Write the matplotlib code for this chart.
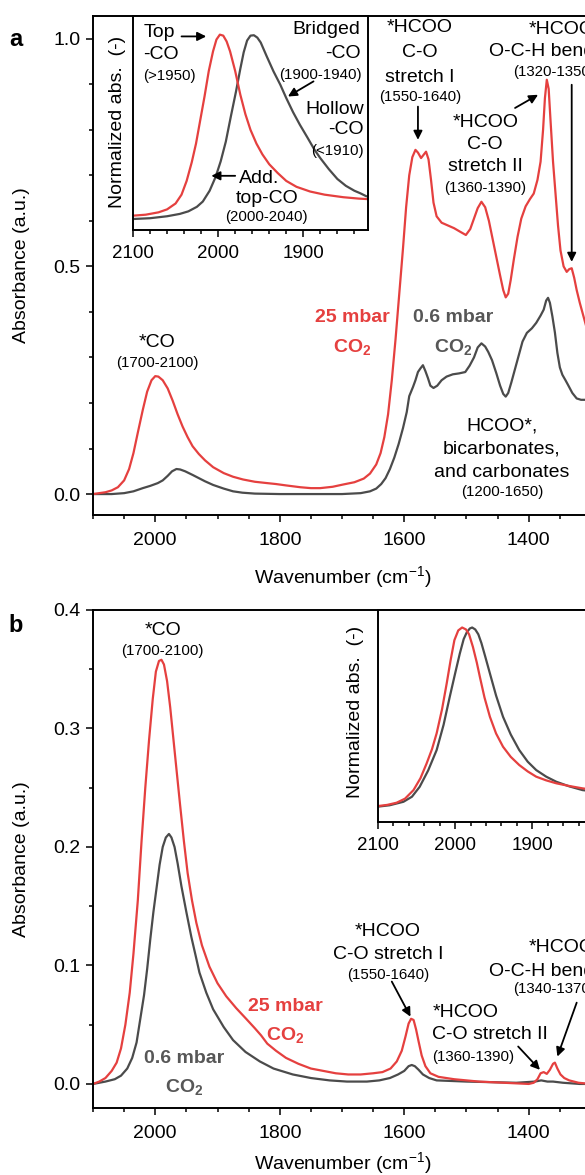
import matplotlib
matplotlib.use("Agg")
import matplotlib.pyplot as plt
from matplotlib.ticker import MultipleLocator

plt.rcParams['font.family'] = ['Liberation Sans', 'DejaVu Sans']
plt.rcParams['mathtext.fontset'] = 'custom'
plt.rcParams['mathtext.rm'] = 'Liberation Sans'
plt.rcParams['mathtext.bf'] = 'Liberation Sans:bold'
plt.rcParams['mathtext.it'] = 'Liberation Sans:italic'

RED = '#e5403f'
GRAY = '#4b4b4b'
GRAY_TXT = '#575757'

# ---- panel a: main spectra ----
a_red_x = [2100, 2090, 2080, 2070, 2060, 2050, 2042, 2035, 2028, 2020, 2013, 2006, 2000, 1995,
           1988, 1980, 1972, 1964, 1956, 1948, 1940, 1930, 1920, 1907, 1890, 1875, 1859, 1840,
           1820, 1806, 1790, 1767, 1750, 1735, 1715, 1698, 1680, 1665, 1655, 1645, 1638, 1632,
           1626, 1620, 1614, 1608, 1602, 1597, 1592, 1587, 1582, 1578, 1573, 1569, 1565, 1561,
           1557, 1553, 1548, 1540, 1530, 1520, 1510, 1501, 1494, 1488, 1482, 1476, 1470, 1464,
           1458, 1452, 1446, 1441, 1437, 1433, 1429, 1424, 1418, 1412, 1405, 1398, 1392, 1386,
           1381, 1377, 1374, 1371, 1368, 1365, 1361, 1357, 1353, 1349, 1344, 1339, 1335, 1331,
           1327, 1323, 1318, 1313, 1308, 1300]
a_red_y = [0.000, 0.002, 0.004, 0.008, 0.015, 0.030, 0.055, 0.090, 0.135, 0.185, 0.225, 0.250, 0.259, 0.258,
           0.250, 0.232, 0.205, 0.175, 0.148, 0.125, 0.105, 0.088, 0.074, 0.059, 0.046, 0.038, 0.032, 0.027,
           0.024, 0.022, 0.019, 0.015, 0.013, 0.013, 0.016, 0.021, 0.026, 0.034, 0.045, 0.065, 0.090, 0.125,
           0.175, 0.250, 0.340, 0.440, 0.540, 0.630, 0.700, 0.740, 0.756, 0.750, 0.738, 0.745, 0.752, 0.735,
           0.690, 0.640, 0.610, 0.596, 0.590, 0.584, 0.576, 0.569, 0.582, 0.605, 0.628, 0.642, 0.630, 0.600,
           0.560, 0.520, 0.480, 0.448, 0.432, 0.440, 0.470, 0.515, 0.565, 0.605, 0.632, 0.648, 0.660, 0.690,
           0.730, 0.800, 0.870, 0.910, 0.890, 0.820, 0.730, 0.660, 0.590, 0.535, 0.500, 0.488, 0.494, 0.496,
           0.475, 0.448, 0.420, 0.395, 0.370, 0.330]

a_gray_x = [2100, 2070, 2050, 2035, 2020, 2008, 1996, 1988, 1980, 1973, 1966, 1960, 1952, 1940,
            1930, 1920, 1907, 1890, 1875, 1860, 1840, 1800, 1700, 1670, 1655, 1645, 1637, 1630,
            1623, 1616, 1609, 1602, 1596, 1592, 1586, 1582, 1578, 1574, 1570, 1566, 1562, 1558,
            1553, 1547, 1540, 1532, 1522, 1512, 1502, 1495, 1488, 1482, 1476, 1470, 1465, 1459,
            1452, 1446, 1441, 1437, 1433, 1428, 1422, 1416, 1410, 1403, 1395, 1388, 1381, 1376,
            1372, 1369, 1366, 1362, 1358, 1354, 1350, 1346, 1341, 1337, 1330, 1323, 1316, 1308,
            1300]
a_gray_y = [0.000, 0.000, 0.002, 0.006, 0.013, 0.018, 0.024, 0.030, 0.040, 0.050, 0.055, 0.054, 0.050, 0.042,
            0.035, 0.028, 0.020, 0.012, 0.006, 0.003, 0.001, 0.000, 0.000, 0.002, 0.006, 0.012, 0.022, 0.035,
            0.055, 0.080, 0.110, 0.145, 0.180, 0.215, 0.235, 0.250, 0.268, 0.276, 0.283, 0.270, 0.255, 0.238,
            0.233, 0.238, 0.250, 0.258, 0.263, 0.265, 0.268, 0.282, 0.300, 0.322, 0.331, 0.324, 0.312, 0.294,
            0.265, 0.238, 0.220, 0.214, 0.222, 0.245, 0.275, 0.305, 0.335, 0.354, 0.364, 0.376, 0.392, 0.405,
            0.425, 0.431, 0.420, 0.390, 0.355, 0.310, 0.278, 0.262, 0.250, 0.240, 0.222, 0.210, 0.207, 0.207,
            0.207]

# ---- panel a: inset, normalized CO band ----
ai_red_x = [2100, 2085, 2070, 2060, 2050, 2043, 2037, 2031, 2026, 2021, 2016, 2011, 2006, 2002,
            1998, 1994, 1990, 1986, 1980, 1974, 1968, 1962, 1955, 1948, 1940, 1930, 1920, 1908,
            1892, 1875, 1853, 1835, 1815]
ai_red_y = [0.073, 0.078, 0.090, 0.105, 0.135, 0.180, 0.250, 0.345, 0.440, 0.560, 0.680, 0.810, 0.910, 0.970,
            0.995, 0.990, 0.960, 0.910, 0.810, 0.690, 0.590, 0.510, 0.440, 0.385, 0.335, 0.290, 0.250, 0.220,
            0.196, 0.180, 0.167, 0.160, 0.155]
ai_gray_x = [2100, 2080, 2060, 2045, 2035, 2025, 2018, 2010, 2003, 1997, 1991, 1985, 1979, 1974,
             1970, 1966, 1962, 1958, 1954, 1950, 1943, 1935, 1927, 1920, 1912, 1904, 1895, 1887,
             1880, 1870, 1860, 1850, 1840, 1833, 1826, 1815]
ai_gray_y = [0.056, 0.060, 0.070, 0.082, 0.095, 0.118, 0.145, 0.200, 0.270, 0.350, 0.450, 0.580, 0.706, 0.820,
             0.905, 0.965, 0.990, 0.992, 0.980, 0.955, 0.885, 0.808, 0.740, 0.672, 0.600, 0.536, 0.470, 0.410,
             0.366, 0.310, 0.260, 0.225, 0.200, 0.187, 0.172, 0.165]

# ---- panel b: main spectra ----
b_red_x = [2100, 2090, 2080, 2070, 2062, 2055, 2048, 2041, 2035, 2028, 2022, 2016, 2010, 2004,
           1999, 1994, 1990, 1986, 1981, 1976, 1971, 1966, 1960, 1954, 1948, 1941, 1934, 1925,
           1913, 1900, 1886, 1870, 1854, 1840, 1830, 1820, 1806, 1790, 1770, 1750, 1730, 1710,
           1690, 1670, 1650, 1635, 1622, 1612, 1604, 1598, 1593, 1589, 1585, 1581, 1577, 1572,
           1566, 1558, 1545, 1520, 1480, 1440, 1400, 1392, 1386, 1381, 1376, 1371, 1366, 1361,
           1358, 1354, 1349, 1343, 1335, 1320, 1300]
b_red_y = [0.000, 0.002, 0.005, 0.011, 0.018, 0.030, 0.050, 0.077, 0.110, 0.155, 0.205, 0.250, 0.290, 0.325,
           0.348, 0.357, 0.358, 0.354, 0.340, 0.318, 0.292, 0.266, 0.235, 0.205, 0.178, 0.155, 0.136, 0.117,
           0.099, 0.085, 0.074, 0.064, 0.055, 0.047, 0.041, 0.034, 0.028, 0.022, 0.017, 0.013, 0.011, 0.009,
           0.008, 0.008, 0.009, 0.010, 0.013, 0.019, 0.028, 0.040, 0.051, 0.055, 0.054, 0.046, 0.036, 0.024,
           0.015, 0.009, 0.006, 0.004, 0.002, 0.001, 0.000, 0.001, 0.004, 0.009, 0.010, 0.0085, 0.012, 0.017,
           0.018, 0.013, 0.008, 0.005, 0.003, 0.001, 0.000]
b_gray_x = [2100, 2080, 2065, 2055, 2045, 2037, 2030, 2024, 2018, 2013, 2008, 2003, 1998, 1993,
            1988, 1983, 1978, 1974, 1969, 1964, 1958, 1950, 1942, 1935, 1929, 1918, 1907, 1890,
            1875, 1855, 1832, 1810, 1779, 1750, 1720, 1692, 1660, 1640, 1623, 1610, 1600, 1593,
            1588, 1583, 1577, 1570, 1560, 1548, 1500, 1420, 1390, 1380, 1370, 1361, 1345, 1318,
            1300]
b_gray_y = [0.000, 0.002, 0.004, 0.007, 0.013, 0.022, 0.035, 0.055, 0.075, 0.097, 0.122, 0.145, 0.165, 0.185,
            0.200, 0.208, 0.211, 0.208, 0.200, 0.186, 0.167, 0.145, 0.124, 0.108, 0.094, 0.077, 0.063, 0.048,
            0.037, 0.027, 0.019, 0.013, 0.008, 0.005, 0.003, 0.002, 0.002, 0.003, 0.005, 0.008, 0.011, 0.015,
            0.016, 0.015, 0.012, 0.008, 0.005, 0.003, 0.002, 0.001, 0.002, 0.003, 0.002, 0.002, 0.001, 0.000,
            0.000]

# ---- panel b: inset ----
bi_red_x = [2100, 2088, 2076, 2065, 2054, 2045, 2037, 2030, 2024, 2017, 2011, 2006, 2001, 1996,
            1991, 1986, 1982, 1977, 1972, 1968, 1962, 1955, 1947, 1938, 1928, 1917, 1906, 1895,
            1882, 1869, 1852, 1835, 1820]
bi_red_y = [0.082, 0.088, 0.099, 0.120, 0.164, 0.225, 0.301, 0.375, 0.456, 0.580, 0.712, 0.830, 0.935, 0.985,
            1.000, 0.990, 0.965, 0.900, 0.820, 0.746, 0.640, 0.541, 0.455, 0.387, 0.335, 0.293, 0.260, 0.233,
            0.214, 0.199, 0.185, 0.173, 0.165]
bi_gray_x = [2100, 2085, 2067, 2056, 2046, 2035, 2024, 2015, 2007, 2000, 1994, 1989, 1985, 1981,
             1978, 1974, 1970, 1966, 1961, 1955, 1947, 1938, 1928, 1917, 1906, 1895, 1882, 1869,
             1852, 1835, 1820]
bi_gray_y = [0.079, 0.086, 0.104, 0.130, 0.181, 0.265, 0.370, 0.500, 0.644, 0.765, 0.866, 0.940, 0.975, 0.995,
             1.000, 0.990, 0.965, 0.920, 0.850, 0.764, 0.650, 0.541, 0.450, 0.370, 0.310, 0.267, 0.233, 0.207,
             0.183, 0.164, 0.157]

main_xticks = [2000, 1800, 1600, 1400]
inset_xticks = [2100, 2000, 1900]

W, H = 585, 1175
fig = plt.figure(figsize=(W / 100, H / 100), dpi=100)

ax1 = fig.add_axes([93 / W, 1 - 515 / H, 498 / W, 499 / H])
ax2 = fig.add_axes([93 / W, 1 - 1108 / H, 498 / W, 498 / H])
in1 = fig.add_axes([133 / W, 1 - 230 / H, 235 / W, 214 / H])
in2 = fig.add_axes([378 / W, 1 - 822 / H, 213 / W, 212 / H])

LW = 1.6
ax1.plot(a_gray_x, a_gray_y, color=GRAY, lw=LW)
ax1.plot(a_red_x, a_red_y, color=RED, lw=LW)
ax2.plot(b_gray_x, b_gray_y, color=GRAY, lw=LW)
ax2.plot(b_red_x, b_red_y, color=RED, lw=LW)
in1.plot(ai_gray_x, ai_gray_y, color=GRAY, lw=LW)
in1.plot(ai_red_x, ai_red_y, color=RED, lw=LW)
in2.plot(bi_gray_x, bi_gray_y, color=GRAY, lw=LW)
in2.plot(bi_red_x, bi_red_y, color=RED, lw=LW)

for ax in (ax1, ax2):
    ax.set_xlim(2100, 1300)
    ax.set_xticks(main_xticks)
    ax.xaxis.set_minor_locator(MultipleLocator(50))
    ax.tick_params(which='both', direction='out', width=1.1, labelsize=14,
                   top=False, right=False)
    ax.tick_params(which='major', length=5)
    ax.tick_params(which='minor', length=3)
    ax.tick_params(axis='x', pad=7)
    ax.tick_params(axis='y', pad=4)
    for s in ax.spines.values():
        s.set_linewidth(1.4)

ax1.set_ylim(-0.046, 1.05)
ax1.set_yticks([0.0, 0.5, 1.0])
ax1.yaxis.set_minor_locator(MultipleLocator(0.1))
ax2.set_ylim(-0.0203, 0.4)
ax2.set_yticks([0.0, 0.1, 0.2, 0.3, 0.4])
ax2.yaxis.set_minor_locator(MultipleLocator(0.05))

for ax in (in1, in2):
    ax.set_xlim(2100, 1824)
    ax.set_ylim(0, 1.09)
    ax.set_xticks(inset_xticks)
    ax.xaxis.set_minor_locator(MultipleLocator(20))
    ax.tick_params(axis='y', left=False, labelleft=False, which='both')
    ax.tick_params(axis='x', which='both', direction='out', width=1.1, labelsize=13.5, pad=6)
    ax.tick_params(axis='x', which='major', length=5)
    ax.tick_params(axis='x', which='minor', length=3)
    for s in ax.spines.values():
        s.set_linewidth(1.4)

# axis labels and panel letters
for yc, xl in ((265, 577), (859, 1163)):
    fig.text(22 / W, 1 - yc / H, 'Absorbance (a.u.)', rotation=90, ha='center', va='center', fontsize=14)
    fig.text(343 / W, 1 - xl / H, 'Wavenumber (cm$^{-1}$)', ha='center', va='center', fontsize=14)
fig.text(117 / W, 1 - 122 / H, 'Normalized abs.  (-)', rotation=90, ha='center', va='center', fontsize=14)
fig.text(355 / W, 1 - 712 / H, 'Normalized abs.  (-)', rotation=90, ha='center', va='center', fontsize=14)
fig.text(16 / W, 1 - 40 / H, 'a', fontsize=17, fontweight='bold', ha='center', va='center')
fig.text(16 / W, 1 - 625 / H, 'b', fontsize=17, fontweight='bold', ha='center', va='center')

BIG = 14
SMALL = 10.8
arrow = dict(arrowstyle='-|>', color='k', lw=1.3, mutation_scale=13, shrinkA=0, shrinkB=0)

# ---- panel a annotations ----
ax1.text(1997, 0.332, '*CO', ha='center', va='center', fontsize=BIG)
ax1.text(1997, 0.288, '(1700-2100)', ha='center', va='center', fontsize=SMALL)
ax1.text(1683, 0.387, '25 mbar', ha='center', va='center', fontsize=BIG, fontweight='bold', color=RED)
ax1.text(1683, 0.323, r'CO$_\mathbf{2}$', ha='center', va='center', fontsize=BIG, fontweight='bold', color=RED)
ax1.text(1522, 0.387, '0.6 mbar', ha='center', va='center', fontsize=BIG, fontweight='bold', color=GRAY_TXT)
ax1.text(1522, 0.323, r'CO$_\mathbf{2}$', ha='center', va='center', fontsize=BIG, fontweight='bold', color=GRAY_TXT)
ax1.text(1443, 0.149, 'HCOO*,', ha='center', va='center', fontsize=BIG)
ax1.text(1443, 0.099, 'bicarbonates,', ha='center', va='center', fontsize=BIG)
ax1.text(1443, 0.048, 'and carbonates', ha='center', va='center', fontsize=BIG)
ax1.text(1443, 0.004, '(1200-1650)', ha='center', va='center', fontsize=SMALL)

ax1.text(1575, 1.024, '*HCOO', ha='center', va='center', fontsize=BIG)
ax1.text(1575, 0.969, 'C-O', ha='center', va='center', fontsize=BIG)
ax1.text(1575, 0.914, 'stretch I', ha='center', va='center', fontsize=BIG)
ax1.text(1575, 0.873, '(1550-1640)', ha='center', va='center', fontsize=SMALL)
ax1.annotate('', xy=(1578, 0.778), xytext=(1578, 0.851), arrowprops=arrow)

ax1.text(1470, 0.815, '*HCOO', ha='center', va='center', fontsize=BIG)
ax1.text(1470, 0.767, 'C-O', ha='center', va='center', fontsize=BIG)
ax1.text(1470, 0.719, 'stretch II', ha='center', va='center', fontsize=BIG)
ax1.text(1470, 0.673, '(1360-1390)', ha='center', va='center', fontsize=SMALL)
ax1.annotate('', xy=(1385, 0.877), xytext=(1422, 0.848), arrowprops=arrow)

ax1.text(1294, 1.02, '*HCOO', ha='right', va='center', fontsize=BIG)
ax1.text(1294, 0.971, 'O-C-H bend', ha='right', va='center', fontsize=BIG)
ax1.text(1294, 0.927, '(1320-1350)', ha='right', va='center', fontsize=SMALL)
ax1.annotate('', xy=(1331, 0.51), xytext=(1331, 0.899), arrowprops=arrow)

# ---- panel a inset annotations ----
in1.text(2088, 1.005, 'Top', ha='left', va='center', fontsize=BIG)
in1.text(2088, 0.893, '-CO', ha='left', va='center', fontsize=BIG)
in1.text(2088, 0.782, '(>1950)', ha='left', va='center', fontsize=SMALL)
in1.annotate('', xy=(2014, 0.986), xytext=(2043, 0.986), arrowprops=arrow)
in1.text(1833, 1.02, 'Bridged', ha='right', va='center', fontsize=BIG)
in1.text(1833, 0.901, '-CO', ha='right', va='center', fontsize=BIG)
in1.text(1831, 0.79, '(1900-1940)', ha='right', va='center', fontsize=SMALL)
in1.annotate('', xy=(1918, 0.68), xytext=(1888, 0.757), arrowprops=arrow)
in1.text(1829, 0.612, 'Hollow', ha='right', va='center', fontsize=BIG)
in1.text(1829, 0.51, '-CO', ha='right', va='center', fontsize=BIG)
in1.text(1829, 0.40, '(<1910)', ha='right', va='center', fontsize=SMALL)
in1.text(1952, 0.264, 'Add.', ha='center', va='center', fontsize=BIG)
in1.text(1943, 0.162, 'top-CO', ha='center', va='center', fontsize=BIG)
in1.text(1943, 0.068, '(2000-2040)', ha='center', va='center', fontsize=SMALL)
in1.annotate('', xy=(2008, 0.276), xytext=(1980, 0.276), arrowprops=arrow)

# ---- panel b annotations ----
ax2.text(1988, 0.383, '*CO', ha='center', va='center', fontsize=BIG)
ax2.text(1988, 0.365, '(1700-2100)', ha='center', va='center', fontsize=SMALL)
ax2.text(1791, 0.0653, '25 mbar', ha='center', va='center', fontsize=BIG, fontweight='bold', color=RED)
ax2.text(1791, 0.0415, r'CO$_\mathbf{2}$', ha='center', va='center', fontsize=BIG, fontweight='bold', color=RED)
ax2.text(1953, 0.0212, '0.6 mbar', ha='center', va='center', fontsize=BIG, fontweight='bold', color=GRAY_TXT)
ax2.text(1953, -0.0025, r'CO$_\mathbf{2}$', ha='center', va='center', fontsize=BIG, fontweight='bold', color=GRAY_TXT)

ax2.text(1626, 0.129, '*HCOO', ha='center', va='center', fontsize=BIG)
ax2.text(1626, 0.109, 'C-O stretch I', ha='center', va='center', fontsize=BIG)
ax2.text(1626, 0.092, '(1550-1640)', ha='center', va='center', fontsize=SMALL)
ax2.annotate('', xy=(1590, 0.0568), xytext=(1620, 0.0864), arrowprops=arrow)

ax2.text(1555, 0.060, '*HCOO', ha='left', va='center', fontsize=BIG)
ax2.text(1555, 0.0415, 'C-O stretch II', ha='left', va='center', fontsize=BIG)
ax2.text(1555, 0.0229, '(1360-1390)', ha='left', va='center', fontsize=SMALL)
ax2.annotate('', xy=(1382, 0.0119), xytext=(1417, 0.0316), arrowprops=arrow)

ax2.text(1294, 0.115, '*HCOO', ha='right', va='center', fontsize=BIG)
ax2.text(1294, 0.095, 'O-C-H bend', ha='right', va='center', fontsize=BIG)
ax2.text(1294, 0.080, '(1340-1370)', ha='right', va='center', fontsize=SMALL)
ax2.annotate('', xy=(1354, 0.0231), xytext=(1323, 0.0686), arrowprops=arrow)

fig.savefig('out.png', dpi=100)
